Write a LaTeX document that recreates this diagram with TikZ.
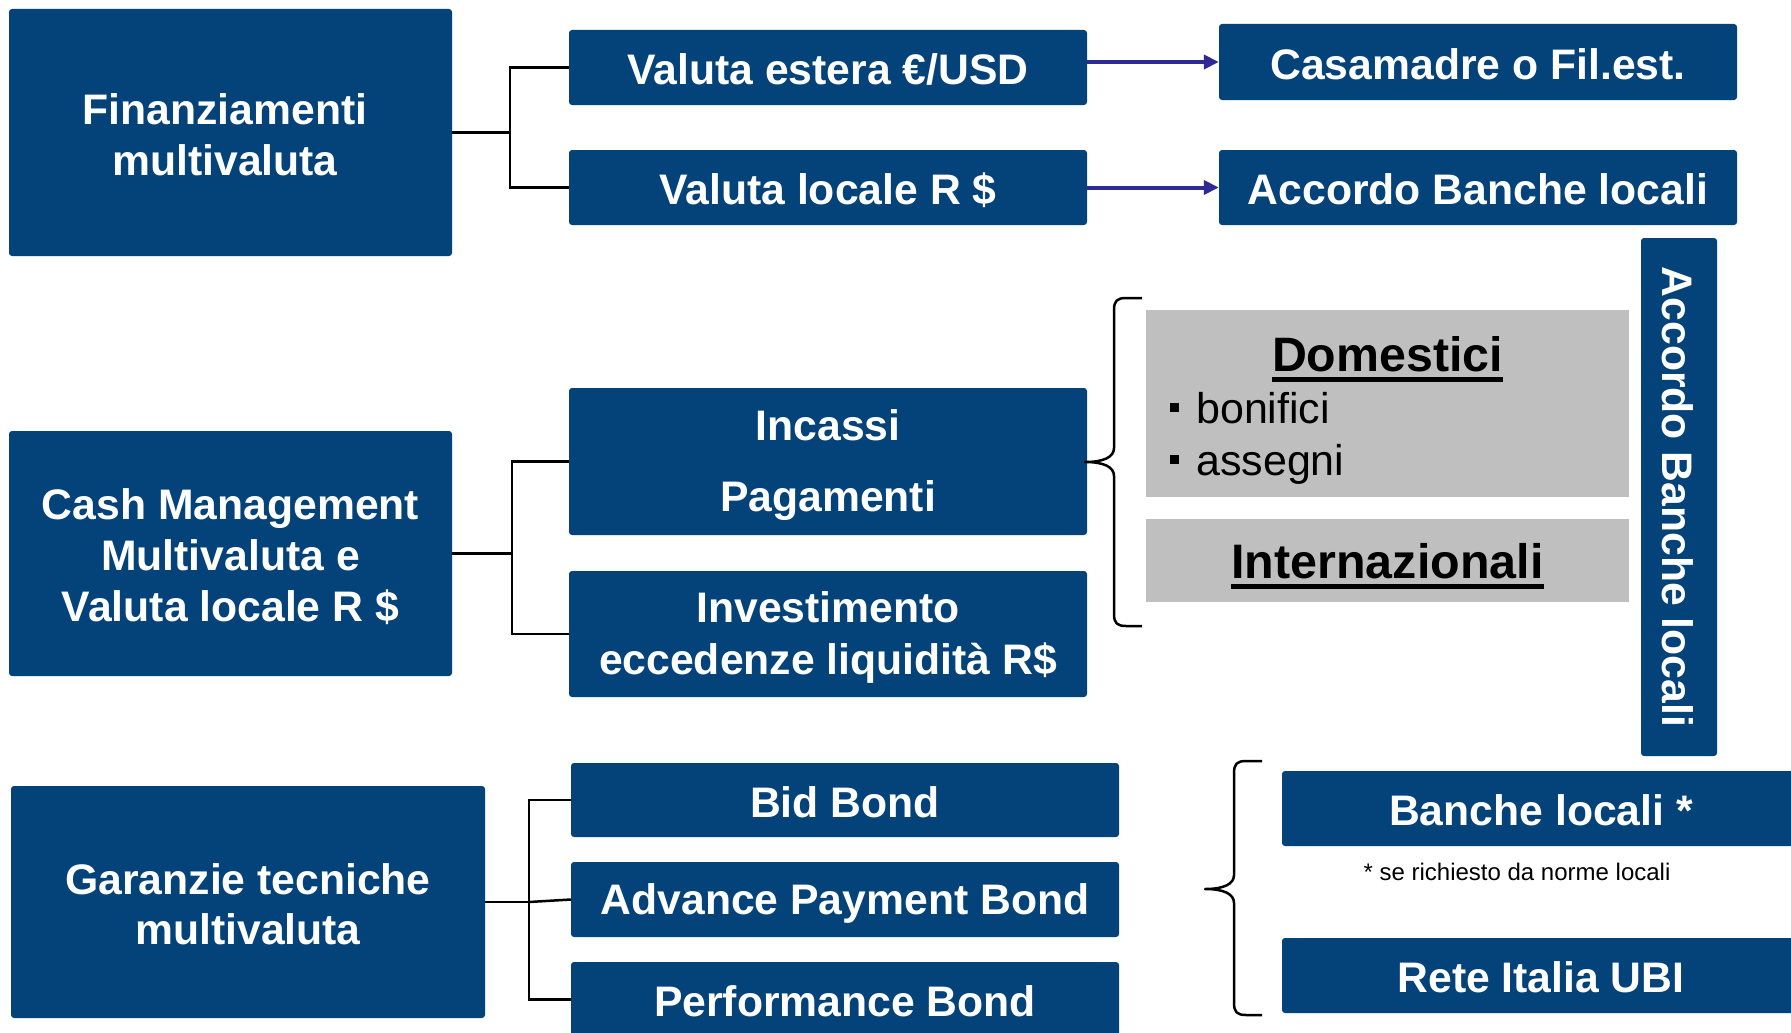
\documentclass[tikz,border=0pt]{standalone}
\usepackage{fontspec}
\setmainfont{Liberation Sans}
\usetikzlibrary{arrows.meta}
\definecolor{ubiblue}{RGB}{4,67,122}
\definecolor{panelgray}{RGB}{191,191,191}
\definecolor{arrowblue}{RGB}{45,42,150}
\newcommand{\topstrut}{\rule{0pt}{38pt}}
\newcommand{\botstrut}{\rule[-4pt]{0pt}{4pt}}
\begin{document}
\begin{tikzpicture}[x=1pt,y=-1pt,
  bluebox/.style={fill=ubiblue, rounded corners=3pt, text=white, align=center, inner sep=0pt, font=\bfseries\fontsize{42.7}{51}\selectfont},
  graypanel/.style={fill=panelgray, inner sep=0pt},
  conn/.style={draw=black, line width=2.5pt},
  arr/.style={draw=arrowblue, line width=4pt, -{Triangle[length=15pt,width=14pt]}},
  bracepath/.style={draw=black, line width=2.5pt, line join=round},
  paneltitle/.style={anchor=base, inner sep=0pt, font=\bfseries\fontsize{48.3}{56}\selectfont},
  listitem/.style={anchor=base west, inner sep=0pt, font=\fontsize{43}{52}\selectfont},
]
\clip (0,0) rectangle (1791,1033);
\fill[white] (0,0) rectangle (1791,1033);

% left column
\node[bluebox, minimum width=443pt, minimum height=247pt] (fin) at (230.5,132.5) {\topstrut Finanziamenti\hspace*{11pt}\\\botstrut multivaluta\hspace*{11pt}};
\node[bluebox, minimum width=443pt, minimum height=245pt] (cash) at (230.5,553.5) {\topstrut Cash Management\\Multivaluta e\\\botstrut Valuta locale R \$};
\node[bluebox, font=\bfseries\fontsize{42.7}{50}\selectfont, minimum width=474pt, minimum height=232pt] (gar) at (248,902) {\topstrut Garanzie tecniche\\\botstrut multivaluta};

% middle column
\node[bluebox, minimum width=518pt, minimum height=75pt] (vest) at (828,67.5) {\topstrut\botstrut Valuta estera €/USD};
\node[bluebox, minimum width=518pt, minimum height=75pt] (vloc) at (828,187.5) {\topstrut\botstrut Valuta locale R \$};
\node[bluebox, minimum width=518pt, minimum height=147pt] (incpag) at (828,461.5) {\topstrut Incassi\\[20pt]\botstrut Pagamenti};
\node[bluebox, font=\bfseries\fontsize{42.7}{52.5}\selectfont, minimum width=518pt, minimum height=126pt] (inv) at (828,634) {\topstrut Investimento\\\botstrut eccedenze liquidità R\$};
\node[bluebox, minimum width=548pt, minimum height=74pt] (bid) at (845,800) {\topstrut\botstrut Bid Bond};
\node[bluebox, minimum width=548pt, minimum height=75pt] (adv) at (845,899.5) {\topstrut\botstrut Advance Payment Bond};
\node[bluebox, minimum width=548pt, minimum height=75pt] (perf) at (845,999.5) {\topstrut\botstrut Performance Bond};

% right column
\node[bluebox, minimum width=518pt, minimum height=76pt] (casa) at (1478,62) {\topstrut\botstrut Casamadre o Fil.est.};
\node[bluebox, minimum width=518pt, minimum height=75pt] (accl) at (1478,187.5) {\topstrut\botstrut Accordo Banche locali};
\node[bluebox, rotate=-90, minimum width=518pt, minimum height=76pt] (vacc) at (1679,497) {\topstrut\botstrut Accordo Banche locali};
\node[bluebox, minimum width=518pt, minimum height=75pt] (banche) at (1541,808.5) {\topstrut\botstrut Banche locali *};
\node[bluebox, minimum width=518pt, minimum height=75pt] (rete) at (1541,975.5) {\topstrut\botstrut Rete Italia UBI};
\node[inner sep=0pt, font=\fontsize{24}{28}\selectfont] (note) at (1517,872) {* se richiesto da norme locali};

% gray panels
\node[graypanel, minimum width=483pt, minimum height=187pt] (dompanel) at (1387.5,403.5) {};
\node[paneltitle] (domt) at (1387.5,371) {Domestici};
\draw[line width=5pt] ([yshift=-8pt]domt.base west) -- ([yshift=-8pt]domt.base east);
\node[listitem] (bon) at (1170,423) {\rule[11.5pt]{9pt}{9pt}\hspace{17pt}bonifici};
\node[listitem] (ass) at (1170,475) {\rule[11.5pt]{9pt}{9pt}\hspace{17pt}assegni};
\node[graypanel, minimum width=483pt, minimum height=83pt] (intpanel) at (1387.5,560.5) {};
\node[paneltitle, font=\bfseries\fontsize{48.4}{56}\selectfont] (intt) at (1387.5,578) {Internazionali};
\draw[line width=5pt] ([yshift=-8pt]intt.base west) -- ([yshift=-8pt]intt.base east);

% connectors
\draw[conn] (fin.east) -- ++(58,0) coordinate (finj) |- (vest.west);
\draw[conn] (finj) |- (vloc.west);
\draw[conn] (cash.east) -- ++(60,0) coordinate (cashj) |- (incpag.west);
\draw[conn] (cashj) |- (inv.west);
\draw[conn] (gar.east) -- ++(44,0) coordinate (garj) |- (bid.west);
\draw[conn] (garj) |- (perf.west);
\draw[conn] (garj) -- (adv.west);

% arrows
\draw[arr] (vest.east |- casa.west) -- (casa.west);
\draw[arr] (vloc.east) -- (accl.west);

% braces
\draw[bracepath] (1142,298) -- (1126,298) .. controls (1117,298) and (1114,301) .. (1114,310)
  -- (1114,448) .. controls (1114,457) and (1104,462) .. (1085,462)
  .. controls (1104,462) and (1114,467) .. (1114,476)
  -- (1114,614) .. controls (1114,623) and (1117,626) .. (1126,626) -- (1142,626);
\draw[bracepath] (1262,761) -- (1246,761) .. controls (1237,761) and (1234,764) .. (1234,773)
  -- (1234,875) .. controls (1234,884) and (1224,889) .. (1205,889)
  .. controls (1224,889) and (1234,894) .. (1234,903)
  -- (1234,1003) .. controls (1234,1012) and (1237,1015) .. (1246,1015) -- (1262,1015);
\end{tikzpicture}
\end{document}
